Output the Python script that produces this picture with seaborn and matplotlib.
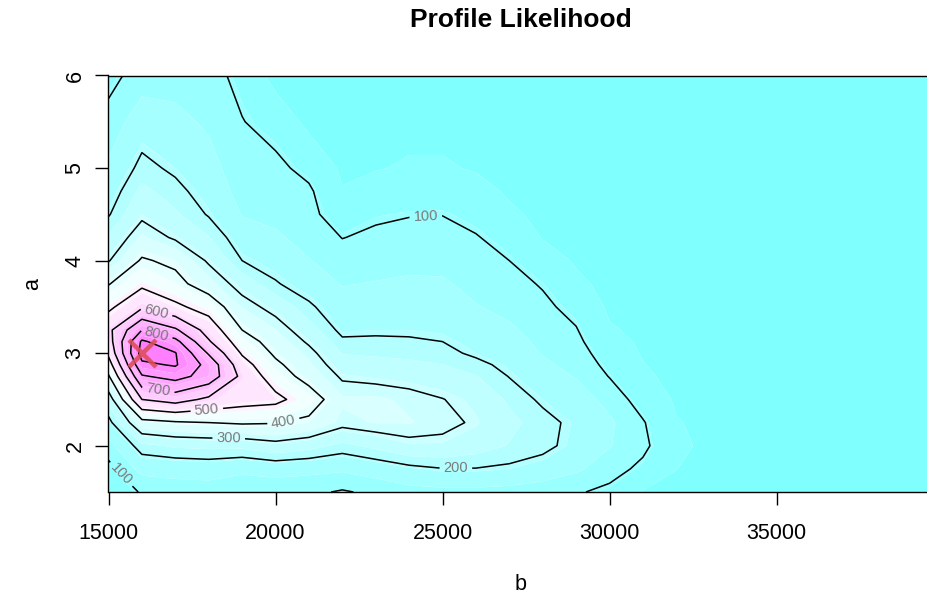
import colorsys

import numpy as np
import matplotlib
matplotlib.use("Agg")
import matplotlib.pyplot as plt
from matplotlib.colors import ListedColormap, BoundaryNorm
import seaborn as sns

# Grid of the profile likelihood surface: b along x, a along y
b_grid = [15000, 16000, 17000, 18000, 19000, 20000, 21000, 22000, 23000, 24000,
          25000, 26000, 27000, 28000, 29000, 30000, 31000, 32000, 33000, 34000,
          36000, 38000, 40000]
a_grid = [1.5, 1.75, 2.0, 2.25, 2.5, 2.75, 2.875, 3.0, 3.125, 3.25, 3.5, 3.75,
          4.0, 4.25, 4.5, 4.75, 5.0, 5.5, 6.0]

# Likelihood values, one list per b value (ordered by a_grid)
lik_15000 = [60, 85, 125, 180, 255, 390, 455, 520, 555, 575, 480, 395, 295, 245, 195, 170, 150, 115, 85]
lik_16000 = [105, 158, 225, 370, 600, 790, 880, 940, 915, 800, 585, 480, 410, 340, 285, 250, 215, 170, 120]
lik_17000 = [120, 160, 245, 390, 640, 835, 910, 905, 830, 715, 520, 430, 380, 290, 245, 215, 190, 155, 125]
lik_18000 = [120, 165, 250, 400, 580, 760, 765, 690, 610, 560, 460, 350, 290, 240, 195, 175, 160, 135, 118]
lik_19000 = [120, 150, 250, 410, 540, 575, 540, 490, 445, 400, 330, 270, 200, 165, 140, 125, 115, 102, 85]
lik_20000 = [115, 160, 275, 405, 525, 450, 418, 385, 360, 335, 275, 205, 175, 150, 130, 118, 112, 80, 30]
lik_21000 = [110, 155, 255, 380, 450, 365, 342, 320, 290, 260, 210, 170, 145, 125, 112, 108, 85, 35, 28]
lik_22000 = [95, 150, 225, 320, 340, 290, 262, 235, 210, 185, 160, 140, 118, 99, 75, 50, 40, 32, 28]
lik_23000 = [110, 165, 250, 335, 340, 280, 255, 230, 210, 190, 165, 145, 125, 108, 93, 65, 45, 33, 28]
lik_24000 = [125, 185, 280, 335, 325, 270, 248, 225, 207, 190, 170, 150, 130, 113, 98, 75, 52, 36, 30]
lik_25000 = [130, 198, 280, 320, 302, 260, 238, 215, 200, 185, 165, 148, 130, 114, 99, 76, 52, 36, 30]
lik_26000 = [130, 198, 260, 290, 275, 240, 215, 190, 177, 165, 145, 130, 115, 103, 85, 62, 44, 34, 28]
lik_27000 = [125, 190, 235, 250, 230, 198, 184, 170, 160, 150, 130, 115, 100, 82, 55, 42, 36, 30, 26]
lik_28000 = [115, 175, 215, 218, 190, 160, 150, 140, 132, 125, 110, 96, 72, 45, 38, 34, 31, 27, 24]
lik_29000 = [105, 150, 180, 185, 165, 140, 130, 120, 111, 103, 85, 58, 42, 36, 32, 30, 28, 25, 22]
lik_30000 = [88, 120, 145, 150, 128, 98, 86, 75, 63, 52, 40, 34, 30, 28, 26, 24, 22, 20, 19]
lik_31000 = [45, 88, 112, 104, 78, 55, 49, 44, 41, 38, 33, 30, 27, 25, 23, 22, 21, 19, 18]
lik_32000 = [38, 48, 55, 50, 42, 36, 34, 32, 30, 29, 27, 25, 23, 22, 21, 20, 19, 18, 17]
lik_33000 = [30, 36, 40, 38, 34, 30, 28, 27, 26, 25, 23, 22, 20, 19, 18, 17, 16, 15, 14]
lik_34000 = [25, 30, 33, 32, 29, 26, 25, 24, 23, 22, 20, 19, 18, 17, 16, 15, 14, 13, 12]
lik_36000 = [18, 22, 24, 23, 21, 19, 18, 18, 17, 16, 15, 14, 13, 12, 12, 11, 10, 10, 9]
lik_38000 = [13, 15, 17, 16, 15, 14, 13, 13, 12, 12, 11, 10, 10, 9, 9, 8, 8, 7, 7]
lik_40000 = [9, 11, 12, 12, 11, 10, 9, 9, 9, 9, 8, 8, 7, 7, 6, 6, 6, 5, 5]

contour_levels = [100, 200, 300, 400, 500, 600, 700, 800, 900]
x_ticks = [15000, 20000, 25000, 30000, 35000]
y_ticks = [2, 3, 4, 5, 6]

# Maximum likelihood estimate
mle_b = [16000]
mle_a = [3.0]

columns = [lik_15000, lik_16000, lik_17000, lik_18000, lik_19000, lik_20000,
           lik_21000, lik_22000, lik_23000, lik_24000, lik_25000, lik_26000,
           lik_27000, lik_28000, lik_29000, lik_30000, lik_31000, lik_32000,
           lik_33000, lik_34000, lik_36000, lik_38000, lik_40000]
Z = np.array(columns, dtype=float).T
B, A = np.meshgrid(np.array(b_grid, dtype=float), np.array(a_grid, dtype=float))


def cm_colors(n):
    """Cyan-white-magenta palette in the style of R's cm.colors."""
    k = n // 2
    cyan = [colorsys.hsv_to_rgb(6 / 12, s, 1.0) for s in np.linspace(0.5, 0.5 / k, k)]
    magenta = [colorsys.hsv_to_rgb(10 / 12, s, 1.0) for s in np.linspace(0, 0.5, n - k + 1)[1:]]
    return cyan + magenta


sns.set_style("white")
plt.rcParams["font.family"] = ["Liberation Sans", "DejaVu Sans"]
plt.rcParams["text.color"] = "black"

W, H = 928, 599
fig = plt.figure(figsize=(W / 100, H / 100), dpi=100)
ax = fig.add_axes([108.5 / W, 107 / H, 835 / W, 416.5 / H])

n_col = 20
fill_edges = np.linspace(0, 950, n_col + 1)
cmap = ListedColormap(cm_colors(n_col))
norm = BoundaryNorm(fill_edges, cmap.N)
ax.contourf(B, A, Z, levels=fill_edges, cmap=cmap, norm=norm, antialiased=True)

cs = ax.contour(B, A, Z, levels=contour_levels, colors="black", linewidths=1.1)
label_spots = [(24500, 4.47), (25400, 1.76), (18600, 2.08), (20250, 2.24),
               (17950, 2.36), (16450, 3.47), (16500, 2.62), (16450, 3.22),
               (15350, 1.68)]
ax.clabel(cs, fmt="%d", fontsize=10.5, colors="#7a7a7a", inline=True,
          inline_spacing=4, manual=label_spots)

sns.scatterplot(x=mle_b, y=mle_a, marker="x", s=380, color="#dc4e5c",
                linewidth=3.2, alpha=0.9, ax=ax, zorder=5, legend=False)

ax.set_xlim(15000, 40000)
ax.set_ylim(1.5, 6.0)
ax.set_xticks(x_ticks)
ax.set_xticklabels([str(t) for t in x_ticks])
ax.set_yticks(y_ticks)
ax.set_yticklabels([str(t) for t in y_ticks], rotation=90, va="center")
ax.tick_params(axis="both", direction="out", length=9.5, width=1.0,
               labelsize=15.5, colors="black", bottom=True, left=True,
               top=False, right=False)
ax.tick_params(axis="x", pad=12.5)
ax.tick_params(axis="y", pad=7)
for sp in ax.spines.values():
    sp.set_visible(True)
    sp.set_color("black")
    sp.set_linewidth(1.0)
ax.set_xlabel("")
ax.set_ylabel("")

fig.text(521 / W, 1 - 20 / H, "Profile Likelihood", ha="center", va="center",
         fontsize=19, fontweight="bold", color="black")
fig.text(521 / W, 1 - 585 / H, "b", ha="center", va="center", fontsize=15.5,
         color="black")
fig.text(33 / W, 1 - 284 / H, "a", ha="center", va="center", fontsize=15.5,
         rotation=90, color="black")

fig.savefig("out.png", dpi=100)
